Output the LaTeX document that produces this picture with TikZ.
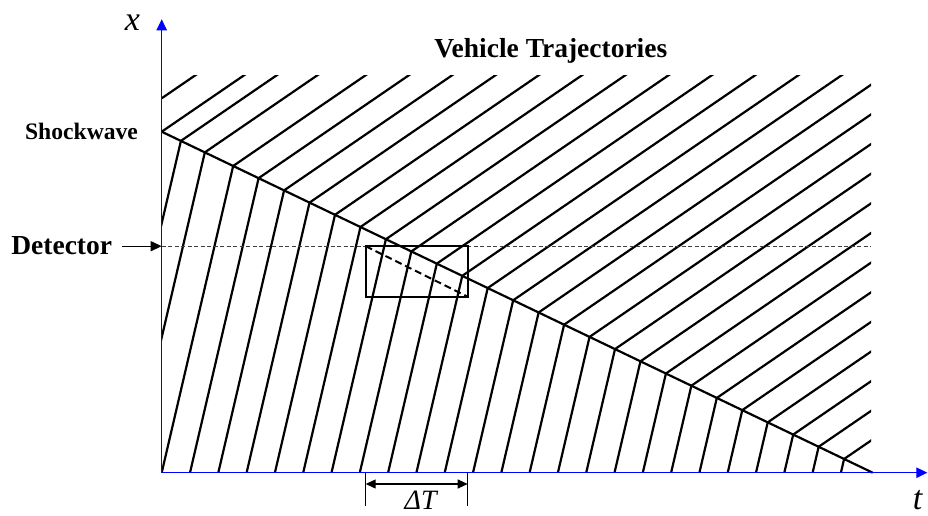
\documentclass[tikz,border=0pt]{standalone}
\usepackage{fontspec}
\setmainfont{Liberation Serif}
\usetikzlibrary{arrows.meta}

\begin{document}
\begin{tikzpicture}[x=1pt,y=1pt,
  traj/.style={line width=2.2pt},
  axis/.style={blue,line width=1pt,-{Triangle[length=11pt,width=10.5pt]}},
  lbl/.style={font=\bfseries\fontsize{27.5}{30}\selectfont,inner sep=0pt,anchor=base},
  ital/.style={font=\itshape\fontsize{34}{36}\selectfont,inner sep=0pt,anchor=base}]
  \useasboundingbox (-161.7,-42.3) rectangle (766.3,472.7);
  % shockwave ends
  \coordinate (s0) at (0,341);
  \coordinate (s1) at (711,0);
  % trajectories, bent where they meet the shockwave
  \begin{scope}
    \clip (0,0) rectangle (709.3,396.7);
    \foreach \bx in {-58.1,-31.5,0,28.3,...,680} {
      \pgfmathsetmacro\hy{(341-0.4796*\bx)/1.1117}
      \draw[traj] (\bx,0) -- ({\bx+0.233*\hy},\hy) -- ++(600,411);
    }
    \draw[traj] (s0) -- ++(600,411);
    \draw[traj] (0,374.4) -- ++(600,411);
  \end{scope}
  \draw[traj] (s0) -- (s1);
  % detector line
  \coordinate (det) at (0,226.5);
  \coordinate (detend) at (709.3,226.5);
  \draw[black!75,line width=1pt,dash pattern=on 4pt off 2.5pt] (det) -- (detend);
  % box at the detector
  \coordinate (bl) at (204,176);
  \coordinate (tr) at (306,226.5);
  \draw[line width=2.2pt] (bl) rectangle (tr);
  \draw[line width=2pt,dash pattern=on 7pt off 4pt] (bl |- tr) -- (tr |- bl);
  % axes
  \coordinate (o) at (0,0);
  \coordinate (ytip) at (0,453.4);
  \coordinate (xtip) at (765.6,0);
  \draw[axis] (o) -- (ytip);
  \draw[axis] (o) -- (xtip);
  \node[ital] (xlab) at (-29.2,442) {x};
  \node[ital] (tlab) at (756,-36.5) {t};
  % Delta T under the box
  \coordinate (dl) at (204,-33.3);
  \coordinate (dr) at (306,-33.3);
  \draw[line width=1pt] (bl |- o) -- (dl);
  \draw[line width=1pt] (tr |- o) -- (dr);
  \draw[line width=1.2pt,{Triangle[length=10pt,width=9pt]}-{Triangle[length=10pt,width=9pt]}]
    (204,-11.3) -- (306,-11.3);
  \node[font=\itshape\fontsize{28}{30}\selectfont,inner sep=0pt,anchor=base] (dT) at (259,-37) {ΔT};
  % labels
  \node[lbl] (title) at (389.1,414.7) {Vehicle Trajectories};
  \node[lbl,font=\bfseries\fontsize{23.6}{26}\selectfont] (shock) at (-80.2,333.2) {Shockwave};
  \node[lbl] (detlab) at (-100,218.7) {Detector};
  \draw[line width=1.3pt,-{Triangle[length=11pt,width=10pt]},shorten <=10pt] (detlab.east |- det) -- (det);
\end{tikzpicture}
\end{document}
